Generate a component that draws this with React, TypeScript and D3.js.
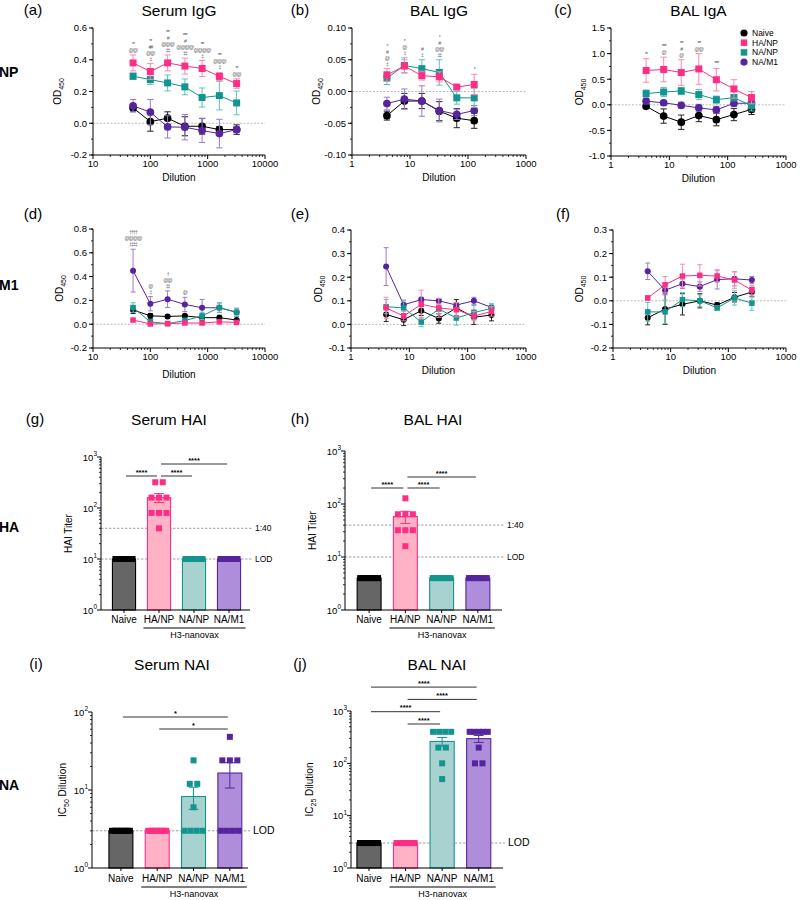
import React from 'react'
import * as d3 from 'd3'

const FONT = 'Liberation Sans, Arial, sans-serif'

const GROUPS = ['Naive', 'HA/NP', 'NA/NP', 'NA/M1']
const GROUP_COLOR = ['#000000', '#ff2d84', '#12958e', '#56249c']
const GROUP_ERR = ['#222222', '#ff86b2', '#5ec2bc', '#9a7ad0']
const GROUP_FILL = ['#666666', '#ffb1c5', '#a8d2cf', '#ae8edb']
const GROUP_SHAPE = ['circle', 'square', 'square', 'circle']

// dilutions on the x axes
const serumDilutions = [50, 100, 200, 400, 800, 1600, 3200]
const balDilutions = [4, 8, 16, 32, 64, 128, 256]
const balIgGDilutions = [4, 8, 16, 32, 64, 128]

// rows follow GROUPS order: Naive, HA/NP, NA/NP, NA/M1
// (a) Serum IgG, NP
const serumIgGNpMean = [
  [0.097, 0.01, 0.032, -0.019, -0.019, -0.04, -0.04],
  [0.38, 0.326, 0.38, 0.36, 0.345, 0.295, 0.25],
  [0.296, 0.275, 0.254, 0.229, 0.162, 0.174, 0.128],
  [0.11, 0.07, -0.023, -0.025, -0.046, -0.065, -0.04]
]
const serumIgGNpErr = [
  [0.02, 0.06, 0.04, 0.06, 0.05, 0.02, 0.03],
  [0.05, 0.05, 0.05, 0.05, 0.05, 0.025, 0.03],
  [0.02, 0.03, 0.05, 0.05, 0.06, 0.09, 0.075],
  [0.04, 0.08, 0.07, 0.08, 0.075, 0.09, 0.02]
]
const serumIgGNpMarks = [
  ['**', '@@'],
  ['**', '##', '@@', '‡'],
  ['***', '#', '@@@', '‡‡'],
  ['****', '#', '@@@@', '‡‡'],
  ['***', '@@@@', '‡'],
  ['***', '@@@', '‡'],
  ['**', '@@']
]

// (b) BAL IgG, NP
const balIgGNpMean = [
  [-0.038, -0.015, -0.015, -0.031, -0.042, -0.046],
  [0.026, 0.04, 0.025, 0.023, 0.007, 0.011],
  [0.021, 0.041, 0.036, 0.03, -0.01, -0.01],
  [-0.019, -0.012, -0.015, -0.03, -0.036, -0.03]
]
const balIgGNpErr = [
  [0.007, 0.012, 0.012, 0.015, 0.015, 0.012],
  [0.01, 0.01, 0.007, 0.008, 0.004, 0.016],
  [0.01, 0.012, 0.014, 0.02, 0.01, 0.015],
  [0.01, 0.016, 0.024, 0.018, 0.008, 0.008]
]
const balIgGNpMarks = [
  ['*', '#', '@', '‡'],
  ['*', '@', '‡'],
  ['#', '‡'],
  ['*', '#', '@@', '‡‡'],
  [],
  ['*']
]

// (c) BAL IgA, NP
const balIgANpMean = [
  [-0.03, -0.22, -0.34, -0.21, -0.29, -0.19, -0.09],
  [0.67, 0.69, 0.63, 0.7, 0.49, 0.31, 0.14],
  [0.22, 0.25, 0.27, 0.2, 0.1, 0.14, -0.02],
  [0.07, 0.04, -0.01, -0.06, -0.1, 0.03, 0.03]
]
const balIgANpErr = [
  [0.03, 0.14, 0.14, 0.12, 0.12, 0.12, 0.1],
  [0.23, 0.24, 0.25, 0.3, 0.22, 0.18, 0.12],
  [0.07, 0.09, 0.07, 0.1, 0.07, 0.06, 0.1],
  [0.05, 0.04, 0.06, 0.07, 0.07, 0.06, 0.05]
]
const balIgANpMarks = [['**'], ['****', '@'], ['***', '#', '@'], ['***', '@@'], ['****'], [], []]

// (d) Serum IgG, M1
const serumIgGM1Mean = [
  [0.12, 0.07, 0.065, 0.07, 0.055, 0.055, 0.035],
  [0.035, 0.002, 0.005, 0.01, 0.01, 0.02, 0.015],
  [0.14, 0.02, 0.005, 0.03, 0.07, 0.14, 0.1],
  [0.45, 0.172, 0.21, 0.166, 0.138, 0.138, 0.1]
]
const serumIgGM1Err = [
  [0.03, 0.02, 0.01, 0.01, 0.02, 0.02, 0.01],
  [0.01, 0.008, 0.008, 0.01, 0.01, 0.01, 0.01],
  [0.04, 0.02, 0.01, 0.02, 0.03, 0.04, 0.03],
  [0.18, 0.06, 0.07, 0.06, 0.07, 0.04, 0.035]
]
const serumIgGM1Marks = [['††††', '@@@@', '‡‡‡‡'], ['@', '‡'], ['†', '@@', '‡‡'], ['@'], [], [], []]

// (e) BAL IgG, M1
const balIgGM1Mean = [
  [0.042, 0.02, 0.058, 0.025, 0.07, 0.03, 0.04],
  [0.07, 0.035, 0.085, 0.07, 0.062, 0.035, 0.055],
  [0.075, 0.07, 0.01, 0.065, 0.027, 0.05, 0.068],
  [0.245, 0.083, 0.105, 0.1, 0.082, 0.1, 0.072]
]
const balIgGM1Err = [
  [0.03, 0.025, 0.02, 0.02, 0.035, 0.03, 0.025],
  [0.045, 0.02, 0.06, 0.04, 0.03, 0.02, 0.02],
  [0.03, 0.03, 0.02, 0.02, 0.03, 0.03, 0.02],
  [0.08, 0.02, 0.01, 0.01, 0.01, 0.015, 0.01]
]

// (f) BAL IgA, M1
const balIgAM1Mean = [
  [-0.072, -0.035, -0.015, 0.0, -0.018, 0.015, 0.037],
  [0.012, 0.068, 0.105, 0.108, 0.105, 0.088, 0.045],
  [-0.047, -0.047, 0.005, 0.0, -0.03, 0.012, -0.01],
  [0.125, 0.045, 0.072, 0.06, 0.09, 0.093, 0.088]
]
const balIgAM1Err = [
  [0.03, 0.065, 0.045, 0.03, 0.01, 0.02, 0.02],
  [0.01, 0.035, 0.05, 0.045, 0.025, 0.035, 0.02],
  [0.04, 0.05, 0.03, 0.025, 0.01, 0.03, 0.03],
  [0.035, 0.02, 0.02, 0.02, 0.04, 0.03, 0.015]
]

// (g) Serum HAI
const serumHaiMean = [10, 160, 10, 10]
const serumHaiSem = [0, 32, 0, 0]
const serumHaiPoints = [
  [10, 10, 10, 10, 10, 10, 10, 10],
  [320, 320, 160, 160, 160, 80, 80, 80, 40],
  [10, 10, 10, 10, 10, 10, 10, 10],
  [10, 10, 10, 10, 10, 10, 10, 10]
]
// (h) BAL HAI
const balHaiMean = [4, 58, 4, 4]
const balHaiSem = [0, 15, 0, 0]
const balHaiPoints = [
  [4, 4, 4, 4, 4, 4, 4, 4],
  [128, 64, 64, 64, 32, 32, 32, 16],
  [4, 4, 4, 4, 4, 4, 4, 4],
  [4, 4, 4, 4, 4, 4, 4, 4]
]
// (i) Serum NAI
const serumNaiMean = [3, 3, 8.25, 16.5]
const serumNaiSem = [0, 0, 2.6, 5.9]
const serumNaiPoints = [
  [3, 3, 3, 3, 3, 3, 3, 3],
  [3, 3, 3, 3, 3, 3, 3, 3],
  [24, 12, 12, 6, 3, 3, 3, 3],
  [48, 24, 24, 24, 3, 3, 3, 3]
]
// (j) BAL NAI
const balNaiMean = [3, 3, 262, 296]
const balNaiSem = [0, 0, 50, 45]
const balNaiPoints = [
  [3, 3, 3, 3, 3, 3, 3, 3],
  [3, 3, 3, 3, 3, 3, 3, 3],
  [400, 400, 400, 400, 200, 200, 100, 50],
  [400, 400, 400, 400, 400, 200, 100, 100]
]

const hiRefs = [{ v: 40, label: '1:40' }, { v: 10, label: 'LOD' }]
const naRefs = [{ v: 3, label: 'LOD' }]

// comparisons: [groupA, groupB, row, label]
const serumHaiComps: [number, number, number, string][] = [[0, 1, 0, '****'], [1, 2, 0, '****'], [1, 3, 1, '****']]
const balHaiComps: [number, number, number, string][] = [[0, 1, 0, '****'], [1, 2, 0, '****'], [1, 3, 1, '****']]
const serumNaiComps: [number, number, number, string][] = [[1, 3, 0, '*'], [0, 3, 1, '*']]
const balNaiComps: [number, number, number, string][] = [[1, 2, 0, '****'], [0, 2, 1, '****'], [1, 3, 2, '****'], [0, 3, 3, '****']]

const fixMinus = (s: string) => s.replace('−', '-')
const isDecade = (v: number) => Math.abs(Math.log10(v) - Math.round(Math.log10(v))) < 1e-6

const Marker = ({ shape, cx, cy, size, color }: any) =>
  shape === 'square' ? (
    <rect x={cx - size / 2} y={cy - size / 2} width={size} height={size} fill={color} />
  ) : (
    <circle cx={cx} cy={cy} r={size * 0.55} fill={color} />
  )

const LinePanel = (p: any) => {
  const x = d3.scaleLog().domain(p.xDomain).range([p.left, p.right])
  const y = d3.scaleLinear().domain(p.yDomain).range([p.bottom, p.top])
  const nMaj = Math.round((p.yDomain[1] - p.yDomain[0]) / p.yStep)
  const yMajor = d3.ticks(p.yDomain[0], p.yDomain[1], nMaj)
  const yMinor = d3.range(p.yDomain[0], p.yDomain[1] + 1e-9, p.yStep / 2)
  const fmt = d3.format(p.yFmt)
  const xTicks = x.ticks()
  const order = [0, 3, 2, 1]
  const line = d3
    .line<number>()
    .x((_, i) => x(p.dil[i]))
    .y(d => y(d))
  const capW = p.mk * 0.9

  return (
    <g fontFamily={FONT}>
      <text x={p.letterX} y={p.letterY} fontSize={15} textAnchor="middle">{p.letter}</text>
      {p.title && (
        <text x={(p.left + p.right) / 2} y={p.letterY + 1} fontSize={15.5} textAnchor="middle">{p.title}</text>
      )}
      {/* zero reference */}
      <line x1={p.left} x2={p.right} y1={y(0)} y2={y(0)} stroke="#aaa" strokeWidth={0.8} strokeDasharray="2,1.5" />
      {/* y axis */}
      <line x1={p.left} x2={p.left} y1={p.top} y2={p.bottom} stroke="#000" />
      {yMinor.map((v, i) => (
        <line key={'ym' + i} x1={p.left - 2} x2={p.left} y1={y(v)} y2={y(v)} stroke="#000" strokeWidth={0.8} />
      ))}
      {yMajor.map((v, i) => (
        <g key={'y' + i}>
          <line x1={p.left - 4} x2={p.left} y1={y(v)} y2={y(v)} stroke="#000" />
          <text x={p.left - 6} y={y(v) + 3.3} fontSize={9.5} textAnchor="end">{fixMinus(fmt(v))}</text>
        </g>
      ))}
      <text transform={`translate(${p.left - p.yTitleDx},${(p.top + p.bottom) / 2}) rotate(-90)`} fontSize={10} textAnchor="middle">
        OD<tspan fontSize={7} dy={3}>450</tspan>
      </text>
      {/* x axis */}
      <line x1={p.left} x2={p.right} y1={p.bottom} y2={p.bottom} stroke="#000" />
      {xTicks.map((v, i) => (
        <line key={'x' + i} x1={x(v)} x2={x(v)} y1={p.bottom} y2={p.bottom + (isDecade(v) ? 4 : 2)} stroke="#000" strokeWidth={isDecade(v) ? 1 : 0.8} />
      ))}
      {xTicks.filter(isDecade).map((v, i) => (
        <text key={'xl' + i} x={x(v)} y={p.bottom + 12} fontSize={9.5} textAnchor="middle">{v}</text>
      ))}
      <text x={(p.left + p.right) / 2} y={p.bottom + p.xTitleDy} fontSize={10} textAnchor="middle">Dilution</text>
      {/* series */}
      {order.map(gi => (
        <g key={'s' + gi}>
          {p.means[gi].map((m: number, i: number) => {
            const e = p.errs[gi][i]
            const cx = x(p.dil[i])
            return (
              <g key={i} stroke={GROUP_ERR[gi]} strokeWidth={1}>
                <line x1={cx} x2={cx} y1={y(m - e)} y2={y(m + e)} />
                <line x1={cx - capW / 2} x2={cx + capW / 2} y1={y(m - e)} y2={y(m - e)} />
                <line x1={cx - capW / 2} x2={cx + capW / 2} y1={y(m + e)} y2={y(m + e)} />
              </g>
            )
          })}
          <path d={line(p.means[gi]) || ''} fill="none" stroke={GROUP_COLOR[gi]} strokeWidth={1} />
          {p.means[gi].map((m: number, i: number) => (
            <Marker key={'m' + i} shape={GROUP_SHAPE[gi]} cx={x(p.dil[i])} cy={y(m)} size={p.mk} color={GROUP_COLOR[gi]} />
          ))}
        </g>
      ))}
      {/* significance symbols */}
      {p.marks &&
        p.marks.map((stack: string[], i: number) => {
          const tops = p.means.map((row: number[], gi: number) => y(row[i] + p.errs[gi][i]))
          const topY = Math.min(...tops)
          return stack.map((s, j) => (
            <text key={`k${i}-${j}`} x={x(p.dil[i])} y={topY - 3 - (stack.length - 1 - j) * 6} fontSize={5.2} letterSpacing={-1} fill="#666" textAnchor="middle">
              {s}
            </text>
          ))
        })}
      {p.legend && (
        <g fontSize={8.5}>
          {GROUPS.map((g, gi) => (
            <g key={g}>
              <Marker shape={GROUP_SHAPE[gi]} cx={p.legend[0]} cy={p.legend[1] + gi * 9.7} size={6.5} color={GROUP_COLOR[gi]} />
              <text x={p.legend[0] + 8} y={p.legend[1] + gi * 9.7 + 3}>{g}</text>
            </g>
          ))}
        </g>
      )}
    </g>
  )
}

const BarPanel = (p: any) => {
  const y = d3.scaleLog().domain([1, p.yMax]).range([p.bottom, p.top])
  const xb = d3.scaleBand().domain(GROUPS).range(p.band).paddingInner(0.34).paddingOuter(0.17)
  const bw = xb.bandwidth()
  const cx = (gi: number) => (xb(GROUPS[gi]) as number) + bw / 2
  const yTicks = y.ticks()
  const S = 6
  const pts: { gi: number; v: number; dx: number }[] = []
  p.points.forEach((vals: number[], gi: number) => {
    d3.group(vals, v => v).forEach((arr, v) => {
      const n = arr.length
      const sp = n > 1 ? Math.min(7.5, (bw - S) / (n - 1)) : 0
      arr.forEach((_, k) => pts.push({ gi, v, dx: (k - (n - 1) / 2) * sp }))
    })
  })
  const lineX0 = (xb('HA/NP') as number) - 4
  const lineX1 = (xb('NA/M1') as number) + bw + 5

  return (
    <g fontFamily={FONT}>
      <text x={p.letterX} y={p.letterY} fontSize={15} textAnchor="middle">{p.letter}</text>
      <text x={p.titleX} y={p.letterY + 1} fontSize={15.5} textAnchor="middle">{p.title}</text>
      {/* reference lines */}
      {p.refs.map((r: any) => (
        <g key={r.label}>
          <line x1={p.axisX} x2={p.xEnd + 2} y1={y(r.v)} y2={y(r.v)} stroke="#888" strokeWidth={0.8} strokeDasharray="2.5,1.5" />
          <text x={p.xEnd + 5} y={y(r.v) + 3} fontSize={p.refFs}>{r.label}</text>
        </g>
      ))}
      {/* bars */}
      {p.means.map((m: number, gi: number) => (
        <rect key={'b' + gi} x={xb(GROUPS[gi])} y={y(m)} width={bw} height={p.bottom - y(m)} fill={GROUP_FILL[gi]} stroke={GROUP_COLOR[gi]} strokeWidth={1.1} />
      ))}
      {p.means.map((m: number, gi: number) =>
        p.sems[gi] > 0 ? (
          <g key={'e' + gi} stroke={GROUP_COLOR[gi]} strokeWidth={1}>
            <line x1={cx(gi)} x2={cx(gi)} y1={y(m - p.sems[gi])} y2={y(m + p.sems[gi])} />
            <line x1={cx(gi) - 5} x2={cx(gi) + 5} y1={y(m - p.sems[gi])} y2={y(m - p.sems[gi])} />
            <line x1={cx(gi) - 5} x2={cx(gi) + 5} y1={y(m + p.sems[gi])} y2={y(m + p.sems[gi])} />
          </g>
        ) : null
      )}
      {pts.map((d, i) => (
        <rect key={'p' + i} x={cx(d.gi) + d.dx - S / 2} y={y(d.v) - S / 2} width={S} height={S} fill={GROUP_COLOR[d.gi]} />
      ))}
      {/* axes */}
      <line x1={p.axisX} x2={p.axisX} y1={p.top} y2={p.bottom} stroke="#000" />
      {yTicks.map((v, i) => (
        <line key={'yt' + i} x1={p.axisX - (isDecade(v) ? 4 : 2)} x2={p.axisX} y1={y(v)} y2={y(v)} stroke="#000" strokeWidth={isDecade(v) ? 1 : 0.8} />
      ))}
      {yTicks.filter(isDecade).map((v, i) => (
        <text key={'yl' + i} x={p.axisX - 4} y={y(v) + 3.5} fontSize={9.5} textAnchor="end">
          10<tspan fontSize={6.5} dy={-4.5}>{Math.round(Math.log10(v))}</tspan>
        </text>
      ))}
      <text transform={`translate(${p.axisX - p.yTitleDx},${(p.top + p.bottom) / 2}) rotate(-90)`} fontSize={10} textAnchor="middle">
        {p.yTitleSub ? (
          <>
            IC<tspan fontSize={7} dy={3}>{p.yTitleSub}</tspan>
            <tspan dy={-3}> Dilution</tspan>
          </>
        ) : (
          'HAI Titer'
        )}
      </text>
      <line x1={p.axisX} x2={p.xEnd} y1={p.bottom} y2={p.bottom} stroke="#000" />
      {GROUPS.map((g, gi) => (
        <g key={'x' + g}>
          <line x1={cx(gi)} x2={cx(gi)} y1={p.bottom} y2={p.bottom + 3} stroke="#000" />
          <text x={cx(gi)} y={p.bottom + p.labelDy} fontSize={10} textAnchor="middle">{g}</text>
        </g>
      ))}
      <line x1={lineX0} x2={lineX1} y1={p.bottom + p.labelDy + 5} y2={p.bottom + p.labelDy + 5} stroke="#000" />
      <text x={(lineX0 + lineX1) / 2} y={p.bottom + p.labelDy + 15} fontSize={9} textAnchor="middle">H3-nanovax</text>
      {/* significance */}
      {p.comps.map(([a, b, row, label]: [number, number, number, string], i: number) => {
        const yy = p.sigBase - row * p.sigStep
        return (
          <g key={'c' + i}>
            <line x1={cx(a) + 2} x2={cx(b) - 2} y1={yy} y2={yy} stroke="#333" strokeWidth={1} />
            <text x={(cx(a) + cx(b)) / 2} y={yy - 1.5} fontSize={7.5} fontWeight="bold" textAnchor="middle">{label}</text>
          </g>
        )
      })}
    </g>
  )
}

export default function App() {
  return (
    <svg width={800} height={900} style={{ position: 'absolute', left: 0, top: 0, background: '#fff' }}>
      <g fontFamily={FONT} fontWeight="bold" fontSize={14}>
        <text x={-1} y={77}>NP</text>
        <text x={-1} y={290}>M1</text>
        <text x={-1} y={532}>HA</text>
        <text x={-1} y={790}>NA</text>
      </g>
      <LinePanel left={93} right={265} top={28} bottom={155} xDomain={[10, 10000]} yDomain={[-0.2, 0.6]} yStep={0.2} yFmt=".1f"
        dil={serumDilutions} means={serumIgGNpMean} errs={serumIgGNpErr} marks={serumIgGNpMarks}
        letter="(a)" letterX={33} letterY={15} title="Serum IgG" mk={7} yTitleDx={32} xTitleDy={26} />
      <LinePanel left={352} right={526} top={28} bottom={155} xDomain={[1, 1000]} yDomain={[-0.1, 0.1]} yStep={0.05} yFmt=".2f"
        dil={balIgGDilutions} means={balIgGNpMean} errs={balIgGNpErr} marks={balIgGNpMarks}
        letter="(b)" letterX={300} letterY={15} title="BAL IgG" mk={7} yTitleDx={32} xTitleDy={26} />
      <LinePanel left={611} right={786} top={28} bottom={156} xDomain={[1, 1000]} yDomain={[-1, 1.5]} yStep={0.5} yFmt=".1f"
        dil={balDilutions} means={balIgANpMean} errs={balIgANpErr} marks={balIgANpMarks}
        letter="(c)" letterX={563} letterY={15} title="BAL IgA" mk={7} yTitleDx={28} xTitleDy={26} legend={[744, 33]} />
      <LinePanel left={93} right={265} top={229} bottom={348} xDomain={[10, 10000]} yDomain={[-0.2, 0.8]} yStep={0.2} yFmt=".1f"
        dil={serumDilutions} means={serumIgGM1Mean} errs={serumIgGM1Err} marks={serumIgGM1Marks}
        letter="(d)" letterX={33} letterY={219} mk={5.5} yTitleDx={30} xTitleDy={30} />
      <LinePanel left={351} right={526} top={230} bottom={348} xDomain={[1, 1000]} yDomain={[-0.1, 0.4]} yStep={0.1} yFmt=".1f"
        dil={balDilutions} means={balIgGM1Mean} errs={balIgGM1Err}
        letter="(e)" letterX={300} letterY={219} mk={5.5} yTitleDx={29} xTitleDy={26} />
      <LinePanel left={613} right={786} top={230} bottom={348} xDomain={[1, 1000]} yDomain={[-0.2, 0.3]} yStep={0.1} yFmt=".1f"
        dil={balDilutions} means={balIgAM1Mean} errs={balIgAM1Err}
        letter="(f)" letterX={563} letterY={219} mk={5.5} yTitleDx={30} xTitleDy={26} />

      <BarPanel axisX={101} xEnd={250} top={457} bottom={610} yMax={1000} band={[106.5, 246.5]}
        means={serumHaiMean} sems={serumHaiSem} points={serumHaiPoints} refs={hiRefs} refFs={8.5}
        comps={serumHaiComps} sigBase={476} sigStep={12}
        letter="(g)" letterX={35} letterY={424} title="Serum HAI" titleX={169} yTitleDx={29} labelDy={13} />
      <BarPanel axisX={345} xEnd={502} top={451} bottom={610} yMax={1000} band={[351, 496]}
        means={balHaiMean} sems={balHaiSem} points={balHaiPoints} refs={hiRefs} refFs={8.5}
        comps={balHaiComps} sigBase={488} sigStep={11}
        letter="(h)" letterX={300} letterY={424} title="BAL HAI" titleX={433} yTitleDx={29} labelDy={13} />
      <BarPanel axisX={92} xEnd={248} top={712} bottom={868} yMax={100} band={[102.75, 248]}
        means={serumNaiMean} sems={serumNaiSem} points={serumNaiPoints} refs={naRefs} refFs={10.5}
        comps={serumNaiComps} sigBase={729} sigStep={12}
        letter="(i)" letterX={36} letterY={669} title="Serum NAI" titleX={172} yTitleDx={26} yTitleSub="50" labelDy={14} />
      <BarPanel axisX={351} xEnd={503} top={711} bottom={868} yMax={1000} band={[350.7, 497]}
        means={balNaiMean} sems={balNaiSem} points={balNaiPoints} refs={naRefs} refFs={10.5}
        comps={balNaiComps} sigBase={724} sigStep={12.3}
        letter="(j)" letterX={300} letterY={669} title="BAL NAI" titleX={437} yTitleDx={38} yTitleSub="25" labelDy={14} />
    </svg>
  )
}
